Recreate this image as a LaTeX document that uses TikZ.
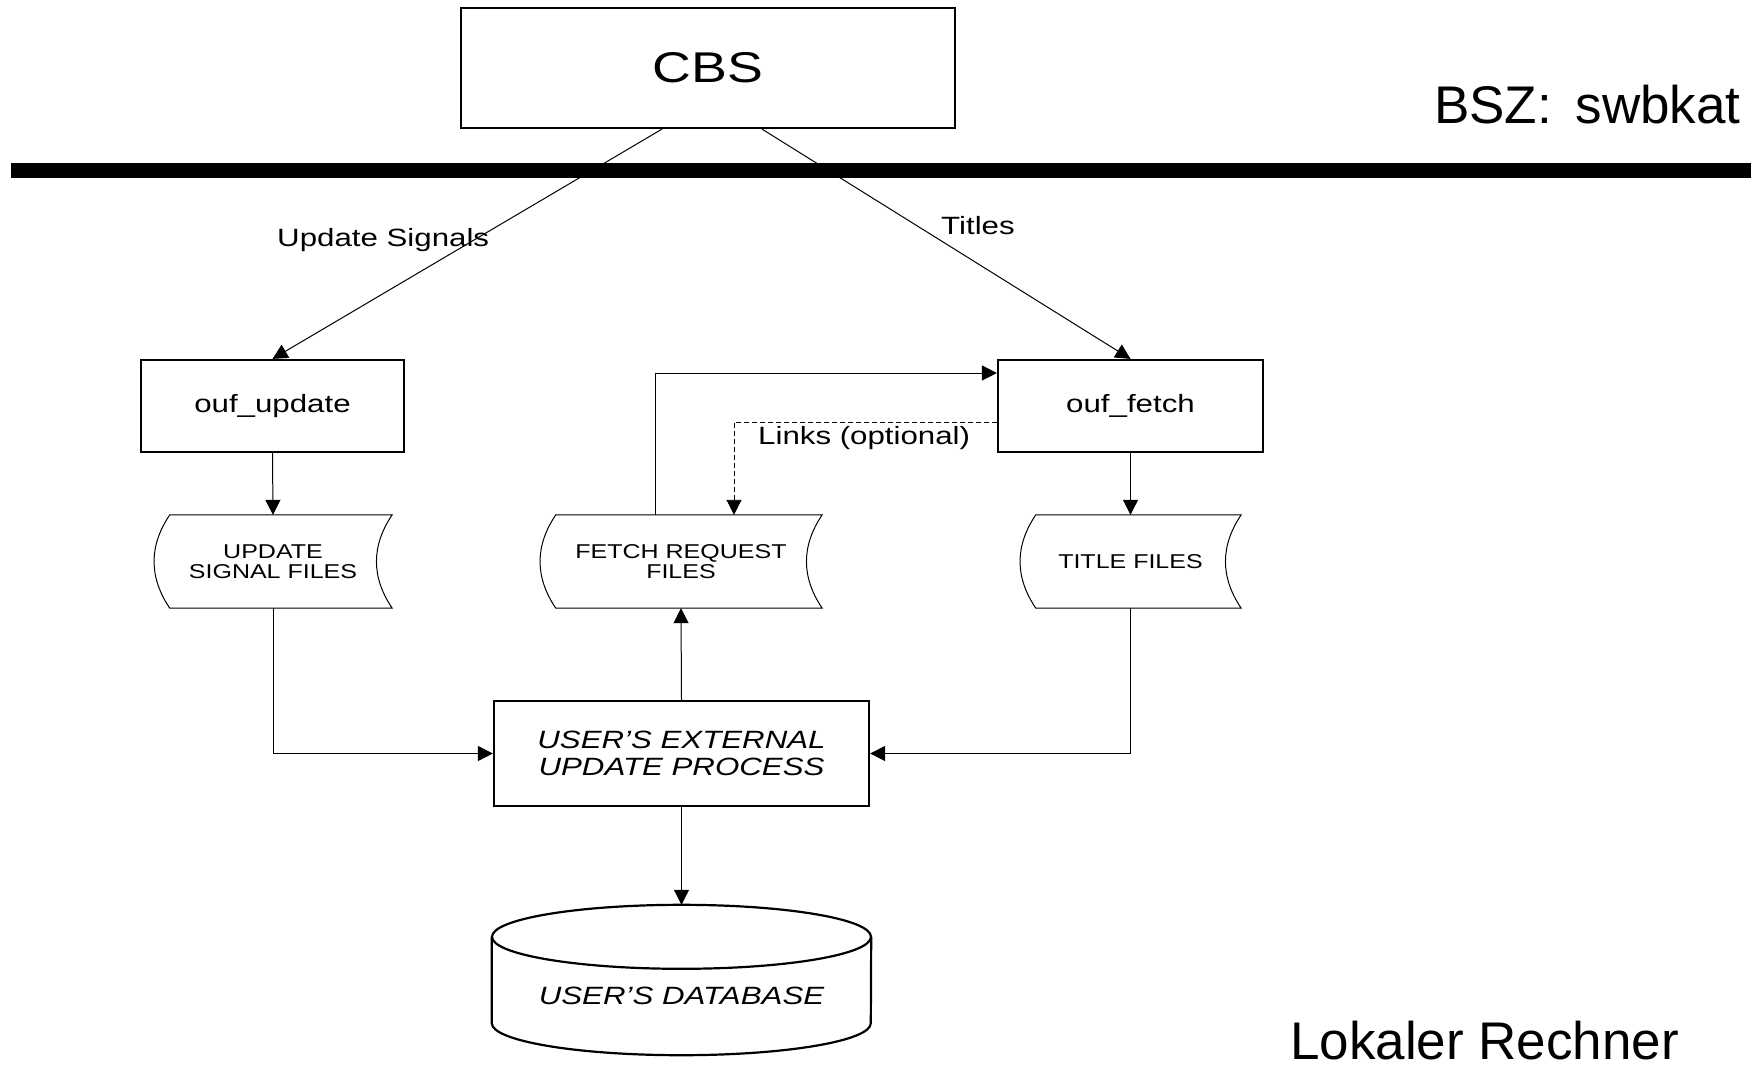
\documentclass[tikz,border=0pt]{standalone}
\usepackage{fontspec}
\setmainfont{Liberation Sans}
\newfontfamily\dfont[FakeStretch=1.25]{Liberation Sans}
\usetikzlibrary{arrows.meta}
\newcommand{\tapeshape}[1]{%
  \draw[line width=1pt] ([xshift=16pt]#1.north west) -- (#1.north east)
    .. controls ([xshift=-21pt,yshift=-31pt]#1.north east) and ([xshift=-21pt,yshift=31pt]#1.south east) .. (#1.south east)
    -- ([xshift=16pt]#1.south west)
    .. controls ([xshift=-5pt,yshift=31pt]#1.south west) and ([xshift=-5pt,yshift=-31pt]#1.north west) .. ([xshift=16pt]#1.north west) -- cycle;}
\begin{document}
\begin{tikzpicture}[x=1pt,y=-1pt,
  box/.style={draw, line width=2.2pt, inner sep=0pt, align=center, font=\dfont\fontsize{25}{30}\selectfont},
  conn/.style={line width=1pt},
  arr/.style={conn, -{Triangle[length=15pt,width=15pt]}},
  tape/.style={inner sep=0pt, minimum height=93pt, align=center, font=\dfont\fontsize{20}{19.5}\selectfont},
  lbl/.style={inner sep=0pt, anchor=base west, font=\dfont\fontsize{25}{30}\selectfont},
  big/.style={inner sep=0pt, anchor=base west, font=\fontsize{53}{60}\selectfont}]
\useasboundingbox (0,0) rectangle (1751,1069);

% nodes
\node[box, minimum width=494pt, minimum height=120pt, font=\dfont\fontsize{43}{50}\selectfont] (cbs) at (708,68) {CBS};
\node[box, minimum width=263pt, minimum height=92pt] (ou) at (272.5,406) {\raisebox{-2pt}{ouf\_update}};
\node[box, minimum width=265pt, minimum height=92pt] (of) at (1130.5,406) {\raisebox{-2pt}{ouf\_fetch}};
\node[tape, minimum width=238pt] (us) at (273,561.5) {UPDATE\\SIGNAL FILES};
\node[tape, minimum width=282pt] (fr) at (681,561.5) {FETCH REQUEST\\FILES};
\node[tape, minimum width=221pt] (tf) at (1130.5,561.5) {TITLE FILES};
\tapeshape{us}
\tapeshape{fr}
\tapeshape{tf}
\node[box, line width=2.2pt, minimum width=375pt, minimum height=105pt, font=\dfont\itshape\fontsize{25}{26.5}\selectfont] (uep) at (681.5,753.5) {USER’S EXTERNAL\\UPDATE PROCESS};

\node[inner sep=0pt, minimum width=379pt, minimum height=150pt] (db) at (681.5,980) {};
\draw[line width=2.2pt] ([yshift=-32pt]db.north west) -- ([yshift=32pt]db.south west)
  arc[start angle=180, end angle=360, x radius=189.5pt, y radius=32pt] -- ([yshift=-32pt]db.north east);
\draw[line width=2.2pt] ([yshift=-32pt]db.north) ellipse [x radius=189.5pt, y radius=32pt];
\node[inner sep=0pt, font=\dfont\itshape\fontsize{25}{30}\selectfont] (dbt) at (681.5,996) {USER’S DATABASE};

% connectors
\draw[arr] ([xshift=-46pt]cbs.south) -- (ou.north);
\draw[arr] ([xshift=54pt]cbs.south) -- (of.north);
\draw[arr] (ou.south) -- (us.north);
\draw[arr] (of.south) -- (tf.north);
\draw[arr] (us.south) |- (uep.west);
\draw[arr] (tf.south) |- (uep.east);
\draw[arr] (uep.north) -- (fr.south);
\draw[arr] ([xshift=-26pt]fr.north) |- ([yshift=33pt]of.west);
\draw[arr, line width=0.9pt, dash pattern=on 5pt off 3pt] ([yshift=-16pt]of.west) -| ([xshift=53pt]fr.north);
\draw[arr] (uep.south) -- (db.north);

% bar
\coordinate (barL) at (11,170);
\coordinate (barR) at (1751,170);
\draw[line width=15pt] (barL) -- (barR);

% labels
\node[lbl] (lus) at (277,246) {Update Signals};
\node[lbl] (lti) at (941,234) {Titles};
\node[lbl] (lli) at (758,444) {Links (optional)};
\node[big] (bsz) at (1434,123) {BSZ:\hspace{9pt} swbkat};
\node[big] (lok) at (1290,1059) {Lokaler Rechner};
\end{tikzpicture}
\end{document}
